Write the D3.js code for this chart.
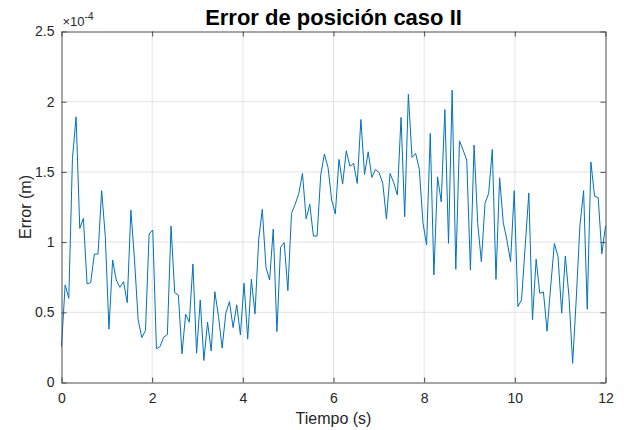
<!DOCTYPE html>
<html>
<head>
<meta charset="utf-8">
<title>Error de posición caso II</title>
<script src="https://d3js.org/d3.v7.min.js"></script>
<style>
  body { margin: 0; background: #fff; }
  text { font-family: "Liberation Sans", Arial, Helvetica, sans-serif; fill: #262626; }
</style>
</head>
<body>
<script>

    // error samples, in units of 1e-4 m (150 samples from 0 to 12 s)
    const errorE4 = [
        0.256, 0.695, 0.60, 1.596, 1.892, 1.098, 1.169, 0.702, 0.712, 0.915,
        0.915, 1.366, 1.039, 0.38, 0.873, 0.73, 0.678, 0.718, 0.569, 1.228,
        0.873, 0.446, 0.32, 0.37, 1.058, 1.086, 0.24, 0.256, 0.323, 0.341,
        1.114, 0.64, 0.624, 0.204, 0.486, 0.43, 0.844, 0.209, 0.588, 0.157,
        0.43, 0.225, 0.647, 0.47, 0.245, 0.494, 0.576, 0.391, 0.553, 0.339,
        0.707, 0.309, 0.735, 0.489, 1.015, 1.233, 0.82, 0.73, 1.093, 0.363,
        0.963, 0.996, 0.654, 1.205, 1.269, 1.347, 1.489, 1.166, 1.269, 1.043,
        1.043, 1.477, 1.627, 1.532, 1.30, 1.20, 1.589, 1.413, 1.65, 1.541,
        1.56, 1.418, 1.873, 1.482, 1.643, 1.461, 1.518, 1.494, 1.418, 1.164,
        1.489, 1.423, 1.335, 1.888, 1.181, 2.053, 1.603, 1.632, 1.518, 1.14,
        0.979, 1.774, 0.766, 1.465, 1.287, 1.944, 0.991, 2.082, 0.806, 1.721,
        1.655, 1.584, 0.801, 1.691, 1.134, 0.861, 1.276, 1.347, 1.66, 0.735,
        1.458, 1.138, 1.015, 0.861, 1.366, 0.54, 0.588, 0.97, 1.35, 0.446,
        0.878, 0.636, 0.645, 0.365, 0.69, 0.99, 0.896, 0.494, 0.901, 0.611,
        0.137, 0.6, 1.12, 1.366, 0.522, 1.57, 1.327, 1.317, 0.917, 1.115
    ];
    const tStart = 0;
    const tEnd = 12;

    const xTicks = [0, 2, 4, 6, 8, 10, 12];
    const yTicks = [0, 0.5, 1, 1.5, 2, 2.5];

    const title = "Error de posición caso II";
    const xLabel = "Tiempo (s)";
    const yLabel = "Error (m)";

    const width = 624;
    const height = 430;
    const margin = {top: 31.5, right: 18.5, bottom: 47.5, left: 61.5};
    const innerW = width - margin.left - margin.right;
    const innerH = height - margin.top - margin.bottom;

    const n = errorE4.length;
    const samples = errorE4.map((v, i) => ({
        t: tStart + i * (tEnd - tStart) / (n - 1),
        e: v * 1e-4
    }));

    const x = d3.scaleLinear().domain([0, 12]).range([0, innerW]);
    const y = d3.scaleLinear().domain([0, 2.5e-4]).range([innerH, 0]);

    const svg = d3.select("body").append("svg")
        .attr("width", width)
        .attr("height", height);

    const g = svg.append("g")
        .attr("transform", `translate(${margin.left},${margin.top})`);

    // grid
    g.append("g")
        .selectAll("line.vx")
        .data(xTicks.slice(1, -1))
        .enter().append("line")
        .attr("x1", d => x(d)).attr("x2", d => x(d))
        .attr("y1", 0).attr("y2", innerH)
        .attr("stroke", "#e3e3e3");

    g.append("g")
        .selectAll("line.hy")
        .data(yTicks.slice(1, -1))
        .enter().append("line")
        .attr("x1", 0).attr("x2", innerW)
        .attr("y1", d => y(d * 1e-4)).attr("y2", d => y(d * 1e-4))
        .attr("stroke", "#e3e3e3");

    // data line
    const line = d3.line()
        .x(d => x(d.t))
        .y(d => y(d.e));

    g.append("path")
        .datum(samples)
        .attr("fill", "none")
        .attr("stroke", "#0072BD")
        .attr("stroke-width", 1)
        .attr("stroke-linejoin", "round")
        .attr("d", line);

    const fmtY = d => String(+(d * 1e4).toFixed(2));
    const yTickVals = yTicks.map(d => d * 1e-4);

    const styleAxis = (sel, showText) => {
        sel.select(".domain").attr("stroke", "#4d4d4d").attr("stroke-width", 1);
        sel.selectAll(".tick line").attr("stroke", "#4d4d4d");
        sel.selectAll(".tick text")
            .attr("font-size", 14)
            .attr("font-family", null)
            .style("display", showText ? null : "none");
    };

    g.append("g")
        .attr("transform", `translate(0,${innerH})`)
        .call(d3.axisBottom(x).tickValues(xTicks).tickSize(-5).tickSizeOuter(0).tickPadding(11))
        .call(s => styleAxis(s, true));

    g.append("g")
        .call(d3.axisTop(x).tickValues(xTicks).tickSize(-5).tickSizeOuter(0))
        .call(s => styleAxis(s, false));

    g.append("g")
        .call(d3.axisLeft(y).tickValues(yTickVals).tickFormat(fmtY).tickSize(-5).tickSizeOuter(0).tickPadding(7))
        .call(s => styleAxis(s, true));

    g.append("g")
        .attr("transform", `translate(${innerW},0)`)
        .call(d3.axisRight(y).tickValues(yTickVals).tickSize(-5).tickSizeOuter(0))
        .call(s => styleAxis(s, false));

    // exponent
    const expo = svg.append("text")
        .attr("x", margin.left + 1)
        .attr("y", margin.top - 6)
        .attr("font-size", 13);
    expo.append("tspan").text("×10");
    expo.append("tspan").attr("dy", -6).attr("font-size", 10).text("-4");

    // labels
    svg.append("text")
        .attr("x", margin.left + innerW / 2)
        .attr("y", 25)
        .attr("text-anchor", "middle")
        .attr("font-size", 22)
        .attr("font-weight", "bold")
        .style("fill", "#000")
        .text(title);

    svg.append("text")
        .attr("x", margin.left + innerW / 2)
        .attr("y", 424)
        .attr("text-anchor", "middle")
        .attr("font-size", 16)
        .text(xLabel);

    svg.append("text")
        .attr("transform", `translate(31,${margin.top + innerH / 2}) rotate(-90)`)
        .attr("text-anchor", "middle")
        .attr("font-size", 16)
        .text(yLabel);

</script>
</body>
</html>
